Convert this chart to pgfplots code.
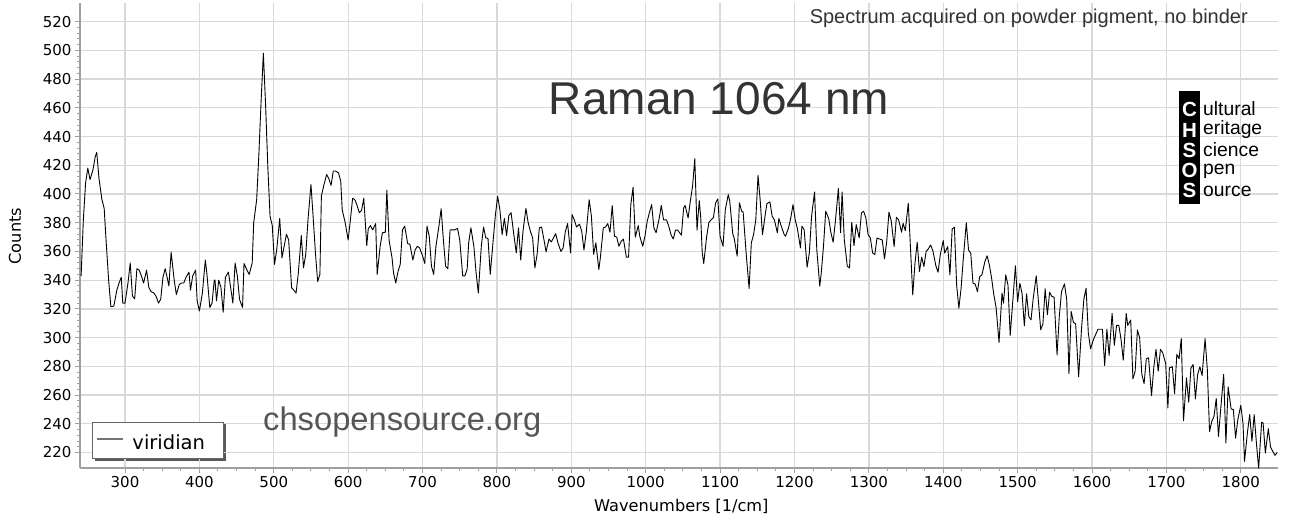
\documentclass[border=0pt]{standalone}
\usepackage{pgfplots}
\pgfplotsset{compat=1.18}
\usepackage{pgfplotstable}
\usepackage{fontspec}
\setmainfont{DejaVu Sans}
\newfontfamily\arial{Liberation Sans}
\definecolor{gridc}{RGB}{217,217,217}
\definecolor{axisc}{RGB}{160,160,160}
\definecolor{titlec}{RGB}{51,51,51}
\definecolor{wmc}{RGB}{85,85,85}
\pgfplotstableread{
x y
241 343
244 382
247 407.6
250 418
253 410
257 417
260 426
262 429
265 411
269 396
272 390
275 364
278 340
281 321.5
285 322
289 333
292 338
295 342
297 324
300 324
304 338
307 352
310 329
313 327
316 348
319 347
322 343
325 338
329 347
332 335
335 332
339 331
342 328.5
345 324
348 326.7
351 342
354 348
357 341
359 336
362 359.5
366 340.6
369 330
373 337
376 338
379 338
382 342
386 345.6
388 333
391 343
395 347
397 325.6
400 318.5
404 331
408 354
410 345
414 321
417 324
420 340
421 340
423 325.6
426 340
429 335
432 317.7
435 342
439 345.6
441 338.6
445 324
448 352
451 343
454 326.6
458 321
460 351.6
464 347
467 344
471 352
473 380
477 396
480 428
483 465
486 498
489 462
492 419
495 384.5
498 378
501 351
504 361.3
508 383
511 355.5
514 363.7
517 372
520 368
524 334.6
527 333
530 331
533 345
537 371
540 348.6
543 358
546 382
550 406.6
553 383.4
556 359
559 339
562 344
564 398.5
567 405.5
571 413.6
574 410.6
577 406
580 416
583 416
587 414.7
590 409
592 389
596 380
600 368
603 382
606 397
609 396
612 392
615 387
618 388.5
621 397
625 364
627 375.7
630 378
633 375
637 379.4
639 344
643 363.6
646 373
650 373.4
652 402.7
655 368
659 355.5
661 345
664 338
667 346
670 351
673 375
676 377.6
680 365.5
683 365
687 354
690 361
693 363.6
696 362.5
700 357
703 351.6
706 377.6
709 370.6
712 349.7
715 344
718 363.6
722 377.6
725 389.7
728 368
731 349.7
734 348
737 375
741 375
743 375
747 376
750 368
754 343
757 343
760 347.8
762 366
765 376.5
769 363.6
772 345
775 331
779 363.6
782 377
785 369.4
788 369
791 344
795 368
798 385.7
801 398.4
804 389
807 371.7
810 383
813 371
816 385
819 387
823 370.6
826 359
829 376.4
832 354
835 374
839 390
842 380
845 374
848 369.4
851 348.5
854 357.8
857 376.4
860 377
864 366
866 359.7
870 368.7
873 366.6
876 369.4
879 372.4
882 366
886 360
889 362.5
892 374
895 379.4
899 359
901 385.7
904 382
907 377
911 379
914 374
917 361
920 373
924 396
927 384.5
930 358
933 366
937 347.4
939 355.5
943 376.4
946 377
949 379.4
952 373.4
955 392
958 370.6
961 370
964 363.6
967 367
970 368.7
974 356
977 356
980 392.6
983 404.7
986 370
990 378
992 370.6
996 363.6
999 370.6
1002 381
1005 387
1008 392.6
1011 376.4
1014 373
1018 382.6
1021 392
1024 382
1028 382
1031 377.5
1034 371.7
1037 368.7
1040 374.8
1043 374.8
1048 371.3
1051 390.3
1053 392
1057 383.3
1060 395
1063 405.4
1066 424.6
1069 374.8
1072 395.4
1074 383.3
1076 359
1078 351.6
1082 370.6
1085 380.3
1088 382
1091 383.6
1094 393.8
1097 396.6
1100 370.6
1104 363.6
1107 389
1111 399.6
1113 395
1117 372.4
1119 369
1123 356.7
1126 393.8
1129 388
1131 387.5
1135 359
1139 334.2
1142 366
1145 371.7
1148 382
1151 413
1154 395
1157 371.7
1161 386.8
1163 393.3
1167 394.5
1170 384.5
1173 382
1177 373
1179 383
1182 378
1186 372
1188 370.6
1192 376.4
1195 383.3
1198 392.6
1201 382
1204 375.7
1208 362.5
1210 377.5
1213 375.2
1217 349
1220 359
1223 384.5
1227 401.4
1230 361.3
1234 335.8
1236 345
1239 363.6
1242 388
1246 383
1249 373
1252 366.4
1255 381
1259 403.8
1262 373
1264 401.4
1267 368
1271 349.7
1274 348.5
1277 380.3
1280 364
1283 378.7
1287 369.4
1290 386.8
1293 388
1296 383.3
1299 371.7
1302 369.4
1305 359
1308 357.8
1311 369.4
1314 368.7
1318 368
1321 354.8
1324 366.9
1327 387.3
1330 381.5
1334 363.4
1337 383.8
1340 382
1344 373.4
1346 379.6
1349 374.5
1353 393.5
1355 372.7
1359 329.8
1362 351.8
1365 366.4
1368 346
1371 356
1374 349.5
1377 360
1380 361.8
1383 364.5
1386 360.6
1390 350.2
1393 345.5
1396 357.6
1400 367.6
1402 358.8
1406 363.4
1409 343.7
1412 375.7
1415 376.8
1418 336.7
1421 320.5
1424 334.4
1427 355.3
1431 380
1434 361
1437 358.7
1440 337.9
1443 337.2
1446 332
1449 342.5
1452 343.7
1456 353
1459 357
1462 350.6
1465 341.4
1468 329.8
1471 321.2
1475 296.6
1479 331
1481 324
1484 343.7
1487 336.7
1490 301.5
1494 329
1497 350
1500 325
1503 337.9
1506 330.5
1509 308.2
1512 330.5
1515 314.7
1518 312.4
1521 327.5
1525 343
1528 325
1531 305.4
1534 309.6
1537 334
1540 315.9
1543 331.6
1546 328.6
1549 328.2
1553 288
1556 314.7
1559 332
1563 337.4
1566 326.3
1569 274.9
1572 318.2
1575 310.6
1578 309.6
1582 272.7
1586 307
1589 326.7
1592 334.4
1595 303.4
1598 292.2
1602 298.8
1605 302.3
1608 305.8
1611 305.8
1614 305.8
1617 280.6
1620 305.8
1623 287.6
1627 316.9
1630 294.6
1633 308.5
1636 308.5
1639 298.8
1642 284.3
1646 316.9
1648 308.5
1652 312.3
1655 271.3
1658 276.6
1661 305.3
1664 299.9
1667 274.3
1670 268
1673 285.3
1676 286
1680 259.6
1683 279
1686 291.8
1689 276.6
1692 291.8
1695 289.5
1699 282
1702 251
1704 279
1708 279.7
1711 261
1714 288.3
1717 285.3
1720 299.3
1723 242.2
1727 272
1730 255
1733 279
1736 281.3
1739 257.3
1742 274.3
1745 279.7
1748 273.6
1752 299.3
1755 277.8
1758 234.6
1761 241.7
1764 245.2
1767 257.6
1770 231.2
1773 250.3
1777 274.3
1780 226.6
1783 265.7
1787 250.3
1790 249.9
1793 230
1796 242.9
1800 252.9
1803 240.2
1805 213.8
1809 234.3
1812 246.4
1815 227.8
1818 246.4
1821 226.6
1824 209.1
1828 241
1830 240.6
1833 219.6
1837 236.6
1840 223.8
1843 220.8
1846 218
1849 220.1
}\spectrum
\begin{document}
\begin{tikzpicture}
\path[use as bounding box] (0,0) rectangle (1293pt,524pt);
% legend shadow
\fill[black!65] (94.5pt,62.5pt) rectangle (225.5pt,100.5pt);
\begin{axis}[
  at={(80pt,55.7pt)}, anchor=south west,
  scale only axis, width=1198pt, height=465.3pt,
  xmin=239.5, xmax=1850, ymin=209, ymax=533,
  axis lines=left,
  axis line style={-, draw=axisc, line width=1.6pt},
  xtick={300,400,...,1800}, ytick={220,240,...,520},
  minor x tick num=3, minor y tick num=4,
  tick align=outside,
  major tick length=5pt, minor tick length=3pt,
  every tick/.style={draw=axisc, line width=1pt},
  grid=major,
  major grid style={draw=gridc, line width=1.3pt},
  /pgf/number format/assume math mode=true,
  /pgf/number format/1000 sep={},
  tick label style={font=\fontsize{15}{18}\selectfont, black},
  xlabel={Wavenumbers [1/cm]},
  ylabel={Counts},
  label style={font=\fontsize{16.2}{19}\selectfont},
  xlabel style={at={(axis description cs:0.502,0)}, anchor=base, yshift=-43pt},
  ylabel style={at={(axis description cs:-0.0543,0.499)}, anchor=center},
  legend style={at={(axis description cs:0.010,0.020)}, anchor=south west,
    font=\fontsize{19.5}{23}\selectfont, draw=black!60, line width=1pt, fill=white,
    inner sep=0pt, nodes={inner sep=0pt, draw=none}, column sep=0pt},
  legend cell align=left,
  legend image code/.code={%
    \path[draw=none, fill=none] (0pt,-13pt) rectangle (40pt,23pt);
    \draw[black!55, line width=1.2pt] (5pt,6.5pt) -- (31pt,6.5pt);},
]
\addplot[black, line width=0.9pt, line join=round] table[x=x, y=y] {\spectrum};
\addlegendentry{\raisebox{5pt}{viridian}\rule{19pt}{0pt}}
\end{axis}
\node[anchor=base, text=titlec, font=\arial\fontsize{46}{50}\selectfont] at (719pt,409pt) {Raman 1064 nm};
\node[anchor=base west, inner sep=0pt, text=wmc, font=\arial\fontsize{32.7}{36}\selectfont] at (263pt,93pt) {chsopensource.org};
\node[anchor=base east, inner sep=0pt, text=titlec, font=\arial\fontsize{20}{24}\selectfont] at (1248pt,500.5pt) {Spectrum acquired on powder pigment, no binder};
\fill[black] (1179pt,320pt) rectangle (1200pt,433pt);
\foreach \L/\W/\yy in {C/ultural/415, H/eritage/394, S/cience/374, O/pen/354, S/ource/334} {
  \node[anchor=center, inner sep=0pt, text=white, font=\arial\bfseries\fontsize{20.5}{22}\selectfont] at (1189.5pt,\yy pt) {\L};
  \node[anchor=west, inner sep=0pt, text=black, font=\arial\fontsize{19.3}{22}\selectfont] at (1203pt,\yy pt) {\W\vphantom{C}};
}
\end{tikzpicture}
\end{document}
